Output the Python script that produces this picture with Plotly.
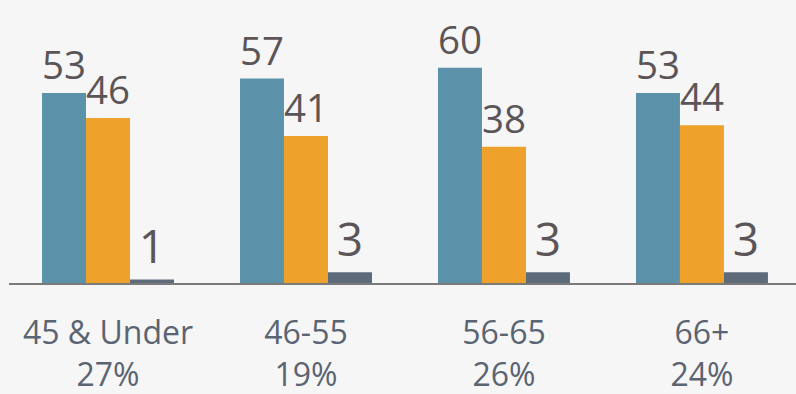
import plotly.graph_objects as go

categories = ["45 & Under<br>27%", "46-55<br>19%", "56-65<br>26%", "66+<br>24%"]
series_a = [53, 57, 60, 53]
series_b = [46, 41, 38, 44]
series_c = [1, 3, 3, 3]

colors = ["#5b92aa", "#eea22b", "#5d6b7b"]
label_font = dict(family="Open Sans", size=46, color="#5b5558")

fig = go.Figure()
for vals, col in zip([series_a, series_b, series_c], colors):
    fig.add_trace(go.Bar(
        x=categories, y=vals, marker=dict(color=col, line=dict(width=0)),
        text=[str(v) for v in vals], textposition="outside",
        textfont=label_font, cliponaxis=False, showlegend=False,
    ))

fig.update_layout(
    width=796, height=394,
    margin=dict(l=9, r=0, t=0, b=111),
    barmode="group", bargap=1/3, bargroupgap=0,
    paper_bgcolor="#f6f6f6", plot_bgcolor="rgba(0,0,0,0)",
    xaxis=dict(
        range=[-0.5, 3.475], showgrid=False, zeroline=False,
        showline=True, linecolor="#7a7a7a", linewidth=1.5,
        ticks="", ticklabelstandoff=21,
        tickfont=dict(family="Open Sans", size=32, color="#5a6472"),
    ),
    yaxis=dict(range=[0, 78.9], visible=False, showgrid=False, zeroline=False),
)

fig.write_html(
    "out.html",
    config={"displayModeBar": False},
    post_script="document.body.style.margin='0';document.body.style.padding='0';",
)
